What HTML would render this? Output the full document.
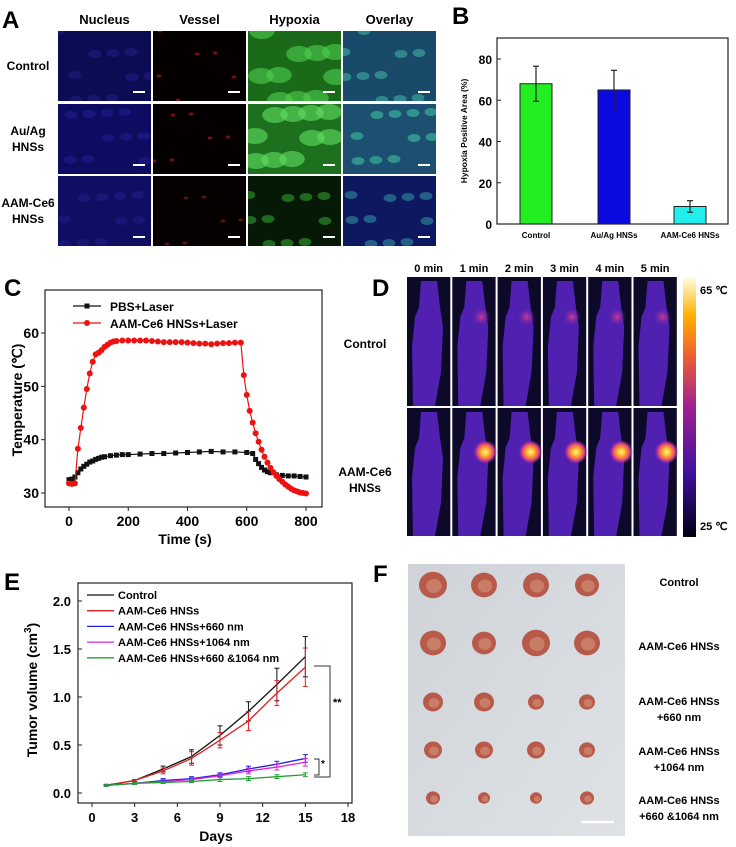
<!DOCTYPE html>
<html><head><meta charset="utf-8"><style>
body{margin:0;background:#fff;}
svg{display:block;font-family:"Liberation Sans",sans-serif;font-weight:bold;}
</style></head><body>
<svg id="fig" width="736" height="847" viewBox="0 0 736 847">
<defs id="defs">
<radialGradient id="hot" cx="0.5" cy="0.5" r="0.5"><stop offset="0" stop-color="#fff6a0"/><stop offset="0.35" stop-color="#ffb020"/><stop offset="0.7" stop-color="#e04080"/><stop offset="1" stop-color="#8030b0" stop-opacity="0"/></radialGradient>
<radialGradient id="warm" cx="0.5" cy="0.5" r="0.5"><stop offset="0" stop-color="#d03890"/><stop offset="1" stop-color="#7028b0" stop-opacity="0"/></radialGradient>
<linearGradient id="cbar" x1="0" y1="1" x2="0" y2="0"><stop offset="0" stop-color="#000010"/><stop offset="0.25" stop-color="#4010a0"/><stop offset="0.5" stop-color="#a02090"/><stop offset="0.7" stop-color="#f06030"/><stop offset="0.85" stop-color="#ffb000"/><stop offset="1" stop-color="#ffffe0"/></linearGradient>
<linearGradient id="photo" x1="0" y1="0" x2="1" y2="1"><stop offset="0" stop-color="#cfd3d8"/><stop offset="1" stop-color="#dfe2e5"/></linearGradient>
</defs>
<g id="panelA"></g>
<g id="panelB"></g>
<g id="panelC"></g>
<g id="panelD"></g>
<g id="panelE"></g>
<g id="panelF"></g>
</svg>
<script>
const NS="http://www.w3.org/2000/svg";
function mk(parent,tag,attrs,text){const e=document.createElementNS(NS,tag);for(const k in attrs)e.setAttribute(k,attrs[k]);if(text!==undefined)e.textContent=text;parent.appendChild(e);return e;}

// ---------- Panel B data ----------
const bCategories=["Control","Au/Ag HNSs","AAM-Ce6 HNSs"];
const bValues=[68,65,8.5];
const bErrors=[8.5,9.5,2.8];
const bColors=["#22ee22","#0a0ae0","#22eeee"];
const bTicks=[0,20,40,60,80];

// ---------- Panel C data ----------
const cTimeRed=[0,10,20,30,40,50,60,70,80,90,100,110,120,130,140,150,160,180,200,220,240,260,280,300,320,340,360,380,400,420,440,460,480,500,520,540,560,580,590,600,610,620,630,640,650,660,670,680,690,700,710,720,730,740,750,760,770,780,790,800];
const cTempRed=[31.8,31.7,31.8,38.3,42.2,46,49.5,52.4,54.6,56,56.3,56.8,57.4,57.8,58.2,58.4,58.5,58.6,58.6,58.6,58.6,58.6,58.5,58.4,58.3,58.3,58.3,58.3,58.2,58.1,58,58,57.9,58,58.1,58.1,58.2,58.2,52.1,48.4,45.4,43.2,41.2,39.6,38.1,36.8,35.7,34.7,33.9,33.2,32.6,32.1,31.6,31.2,30.8,30.5,30.3,30.1,30,29.9];
const cTimeBlack=[0,10,20,30,40,50,60,70,80,90,100,110,120,140,160,180,200,240,280,320,360,400,440,480,520,560,600,620,630,640,650,660,670,680,700,720,740,760,780,800];
const cTempBlack=[32.5,32.6,33,33.8,34.5,35,35.4,35.8,36,36.3,36.5,36.7,36.8,37,37.1,37.2,37.2,37.3,37.4,37.4,37.5,37.6,37.7,37.8,37.7,37.7,37.6,37.4,36.3,35.5,34.8,34.3,34,33.8,33.4,33.3,33.2,33.2,33.1,33];
const cXTicks=[0,200,400,600,800];
const cYTicks=[30,40,50,60];

// ---------- Panel E data ----------
const eDays=[1,3,5,7,9,11,13,15];
const eSeriesNames=["Control","AAM-Ce6 HNSs","AAM-Ce6 HNSs+660 nm","AAM-Ce6 HNSs+1064 nm","AAM-Ce6 HNSs+660 &1064 nm"];
const eControl=[0.08,0.13,0.25,0.38,0.6,0.85,1.13,1.42];
const eControlErr=[0,0.01,0.03,0.07,0.1,0.1,0.17,0.21];
const eAAM=[0.08,0.13,0.23,0.36,0.55,0.75,1.04,1.31];
const eAAMErr=[0,0.01,0.03,0.07,0.08,0.1,0.13,0.2];
const e660=[0.08,0.1,0.13,0.15,0.19,0.25,0.3,0.36];
const e660Err=[0.01,0.01,0.02,0.02,0.02,0.03,0.03,0.04];
const e1064=[0.08,0.1,0.12,0.14,0.18,0.23,0.27,0.32];
const e1064Err=[0.01,0.01,0.02,0.02,0.02,0.03,0.03,0.04];
const eCombo=[0.08,0.1,0.11,0.12,0.14,0.15,0.17,0.19];
const eComboErr=[0.01,0.01,0.01,0.01,0.02,0.02,0.02,0.02];
const eXTicks=[0,3,6,9,12,15,18];
const eYTicks=[0.0,0.5,1.0,1.5,2.0];

// ================= Panel A =================
(function(){
const g=document.getElementById('panelA');
const defs=document.getElementById('defs');
let t=mk(g,'text',{x:2,y:28,'font-size':24});t.textContent='A';


const heads=["Nucleus","Vessel","Hypoxia","Overlay"];
const colX=[58,153,248,343], rowY=[31,104,176], W=93, H=70;
heads.forEach((h,i)=>{const e=mk(g,'text',{x:colX[i]+W/2,y:24,'font-size':13,'text-anchor':'middle'},h);

});
const rows=[["Control"],["Au/Ag","HNSs"],["AAM-Ce6","HNSs"]];
rows.forEach((r,j)=>{r.forEach((s,k)=>{const e=mk(g,'text',{x:28,y:rowY[j]+H/2+4+(k-(r.length-1)/2)*16,'font-size':12,'text-anchor':'middle'},s);

});});
const base=[["#0c0c55","#050000","#1a6a1a","#1a4a6a"],["#0c0c60","#040000","#1d701d","#1d5070"],["#0e0e62","#070000","#061806","#0e1860"]];
const blobs=[["#2a2aa0","#c02020","#50d050","#40b0a0"],["#2a2ab0","#c02020","#60e060","#40c0a0"],["#2828a0","#902020","#30a030","#3090a0"]];
for(let j=0;j<3;j++)for(let i=0;i<4;i++){
 const x=colX[i],y=rowY[j];
 const cp=mk(defs,'clipPath',{id:'clipA'+j+i});
 mk(cp,'rect',{x:x,y:y,width:W,height:H});
 const tg=mk(g,'g',{'clip-path':'url(#clipA'+j+i+')'});
 const r=mk(tg,'rect',{x:x,y:y,width:W,height:H,fill:base[j][i]});
 
 
 const n=(i==1)?6:10;
 for(let k=0;k<n;k++){
  const cx=x+((k*37+j*13+i*7)%W), cy=y+((k*23+j*11)%H);
  const rr=(i==1)?1.5:((i==2&&j<2)?8:4);
  mk(tg,'ellipse',{cx:cx,cy:cy,rx:rr*1.6,ry:rr,fill:blobs[j][i],opacity:(i==0)?0.35:0.6});
 }
 mk(g,'line',{x1:x+W-18,y1:y+H-9,x2:x+W-6,y2:y+H-9,stroke:'#fff','stroke-width':2});
}
})();

// ================= Panel B =================
(function(){
const g=document.getElementById('panelB');
const X0=497,X1=728,Y0=38,Y1=224;
const yB=v=>Y1-v*(165/80);
const centers=[536,614,690], bw=32;
let t=mk(g,'text',{x:452,y:24,'font-size':24},'B');


bValues.forEach((v,i)=>{
 const r=mk(g,'rect',{x:centers[i]-bw/2,y:yB(v),width:bw,height:Y1-yB(v),fill:bColors[i],stroke:'#222','stroke-width':1});
 
 
 mk(g,'line',{x1:centers[i],y1:yB(v-bErrors[i]),x2:centers[i],y2:yB(v+bErrors[i]),stroke:'#222','stroke-width':1.2});
 mk(g,'line',{x1:centers[i]-3,y1:yB(v+bErrors[i]),x2:centers[i]+3,y2:yB(v+bErrors[i]),stroke:'#222','stroke-width':1.2});
 mk(g,'line',{x1:centers[i]-3,y1:yB(v-bErrors[i]),x2:centers[i]+3,y2:yB(v-bErrors[i]),stroke:'#222','stroke-width':1.2});
 const l=mk(g,'text',{x:centers[i],y:238,'font-size':8,'text-anchor':'middle'},bCategories[i]);
 
 
});
const f=mk(g,'rect',{x:X0,y:Y0,width:X1-X0,height:Y1-Y0,fill:'none',stroke:'#222','stroke-width':1.2});


bTicks.forEach(v=>{mk(g,'line',{x1:X0,y1:yB(v),x2:X0+4,y2:yB(v),stroke:'#222'});
 const l=mk(g,'text',{x:X0-5,y:yB(v)+5,'font-size':12,'text-anchor':'end'},v);
 
 });
const yt=mk(g,'text',{x:0,y:0,'font-size':8.5,'text-anchor':'middle',transform:'translate(467,131) rotate(-90)'},'Hypoxia Positive Area (%)');


})();

// ================= Panel C =================
(function(){
const g=document.getElementById('panelC');
const X0=45,X1=322,Y0=290,Y1=507;
const xC=t=>69+t*(237/800), yC=v=>493-(v-30)*(160/30);
let t=mk(g,'text',{x:4,y:296,'font-size':24},'C');


const f=mk(g,'rect',{x:X0,y:Y0,width:X1-X0,height:Y1-Y0,fill:'none',stroke:'#222','stroke-width':1.2});


cXTicks.forEach(v=>{mk(g,'line',{x1:xC(v),y1:Y1,x2:xC(v),y2:Y1+4,stroke:'#222'});
 const l=mk(g,'text',{x:xC(v),y:526,'font-size':14,'text-anchor':'middle'},v);
 
 });
cYTicks.forEach(v=>{mk(g,'line',{x1:X0-4,y1:yC(v),x2:X0,y2:yC(v),stroke:'#222'});
 const l=mk(g,'text',{x:X0-6,y:yC(v)+5,'font-size':14,'text-anchor':'end'},v);
 
 });
const xt=mk(g,'text',{x:185,y:544,'font-size':14,'text-anchor':'middle'},'Time (s)');


const yt=mk(g,'text',{x:0,y:0,'font-size':14,'text-anchor':'middle',transform:'translate(22,400) rotate(-90)'},'Temperature (℃)');


const pb=mk(g,'polyline',{points:cTimeBlack.map((x,i)=>xC(x)+','+yC(cTempBlack[i])).join(' '),fill:'none',stroke:'#111','stroke-width':1.2});


cTimeBlack.forEach((x,i)=>{const m=mk(g,'rect',{x:xC(x)-2.5,y:yC(cTempBlack[i])-2.5,width:5,height:5,fill:'#111'});
 
 });
const pr=mk(g,'polyline',{points:cTimeRed.map((x,i)=>xC(x)+','+yC(cTempRed[i])).join(' '),fill:'none',stroke:'#ee1111','stroke-width':1.2});


cTimeRed.forEach((x,i)=>{const m=mk(g,'circle',{cx:xC(x),cy:yC(cTempRed[i]),r:3,fill:'#ee1111'});
 
 });
mk(g,'line',{x1:73,y1:306,x2:101,y2:306,stroke:'#111','stroke-width':1.2});
mk(g,'rect',{x:84.5,y:303.5,width:5,height:5,fill:'#111'});
let l1=mk(g,'text',{x:110,y:311,'font-size':12},'PBS+Laser');


mk(g,'line',{x1:73,y1:323,x2:101,y2:323,stroke:'#ee1111','stroke-width':1.2});
mk(g,'circle',{cx:87,cy:323,r:3,fill:'#ee1111'});
let l2=mk(g,'text',{x:110,y:328,'font-size':12},'AAM-Ce6 HNSs+Laser');


})();

// ================= Panel D =================
(function(){
const g=document.getElementById('panelD');
let t=mk(g,'text',{x:372,y:296,'font-size':24},'D');


const x0=406,cw=45.3,ys=[277,408],hs=[130,129];
mk(g,'rect',{x:406,y:277,width:272,height:260,fill:'#fff'});
for(let j=0;j<2;j++)for(let i=0;i<6;i++){
 const x=x0+i*cw+1,y=ys[j];
 const r=mk(g,'rect',{x:x,y:y,width:cw-2,height:hs[j]-1,fill:'#0c0a28'});
 
 
 mk(g,'path',{d:`M${x+14} ${y+4} L${x+30} ${y+4} L${x+33} ${y+30} L${x+36} ${y+50} L${x+34} ${y+95} L${x+28} ${y+hs[j]-1} L${x+6} ${y+hs[j]-1} L${x+5} ${y+70} L${x+8} ${y+40} L${x+12} ${y+30} Z`,fill:'#5020b0'});
 if(i>0){ if(j==0) mk(g,'ellipse',{cx:x+29,cy:y+40,rx:9,ry:9,fill:'url(#warm)'});
 else mk(g,'ellipse',{cx:x+33,cy:y+44,rx:12,ry:12,fill:'url(#hot)'});}
}
["0 min","1 min","2 min","3 min","4 min","5 min"].forEach((s,i)=>{const e=mk(g,'text',{x:x0+i*cw+cw/2,y:272,'font-size':11,'text-anchor':'middle'},s);
 
 });
let c=mk(g,'text',{x:365,y:348,'font-size':12,'text-anchor':'middle'},'Control');


let a1=mk(g,'text',{x:365,y:476,'font-size':12,'text-anchor':'middle'},'AAM-Ce6');


mk(g,'text',{x:365,y:492,'font-size':12,'text-anchor':'middle'},'HNSs');
const cb=mk(g,'rect',{x:683,y:277,width:13,height:260,fill:'url(#cbar)'});


mk(g,'text',{x:700,y:294,'font-size':11},'65 ℃');
mk(g,'text',{x:700,y:530,'font-size':11},'25 ℃');
})();

// ================= Panel E =================
(function(){
const g=document.getElementById('panelE');
const X0=78,X1=352,Y0=583,Y1=803;
const xE=d=>92+d*256/18, yE=v=>793-v*96;
let t=mk(g,'text',{x:4,y:590,'font-size':24},'E');


const f=mk(g,'rect',{x:X0,y:Y0,width:X1-X0,height:Y1-Y0,fill:'none',stroke:'#222','stroke-width':1.2});


eXTicks.forEach(v=>{mk(g,'line',{x1:xE(v),y1:Y1,x2:xE(v),y2:Y1+4,stroke:'#222'});
 const l=mk(g,'text',{x:xE(v),y:822,'font-size':13,'text-anchor':'middle'},v);
 
 });
eYTicks.forEach(v=>{mk(g,'line',{x1:X0,y1:yE(v),x2:X0+4,y2:yE(v),stroke:'#222'});
 const l=mk(g,'text',{x:X0-7,y:yE(v)+5,'font-size':13,'text-anchor':'end'},v.toFixed(1));
 
 });
const xt=mk(g,'text',{x:216,y:841,'font-size':14,'text-anchor':'middle'},'Days');


const yt=mk(g,'text',{x:0,y:0,'font-size':14,'text-anchor':'middle',transform:'translate(37,690) rotate(-90)'});


yt.appendChild(document.createTextNode('Tumor volume (cm'));
mk(yt,'tspan',{dy:-6,'font-size':10},'3');
mk(yt,'tspan',{dy:6},')');
const series=[[eControl,eControlErr,'#111'],[eAAM,eAAMErr,'#e02020'],[e660,e660Err,'#2020e0'],[e1064,e1064Err,'#e020e0'],[eCombo,eComboErr,'#20a030']];
series.forEach((s,k)=>{
 const p=mk(g,'polyline',{points:eDays.map((d,i)=>xE(d)+','+yE(s[0][i])).join(' '),fill:'none',stroke:s[2],'stroke-width':1.3});
 
 
 eDays.forEach((d,i)=>{const v=s[0][i],e=s[1][i],x=xE(d);
  mk(g,'line',{x1:x,y1:yE(v-e),x2:x,y2:yE(v+e),stroke:s[2],'stroke-width':1});
  mk(g,'line',{x1:x-2.5,y1:yE(v-e),x2:x+2.5,y2:yE(v-e),stroke:s[2],'stroke-width':1});
  mk(g,'line',{x1:x-2.5,y1:yE(v+e),x2:x+2.5,y2:yE(v+e),stroke:s[2],'stroke-width':1});
 });
 const ly=595+k*15.7;
 mk(g,'line',{x1:87,y1:ly,x2:114,y2:ly,stroke:s[2],'stroke-width':1.3});
 const l=mk(g,'text',{x:118,y:ly+4,'font-size':11},eSeriesNames[k]);
 
 
});
mk(g,'polyline',{points:'314,666 330,666 330,777 314,777',fill:'none',stroke:'#333','stroke-width':1});
mk(g,'text',{x:333,y:706,'font-size':11},'**');
mk(g,'polyline',{points:'314,759 319,759 319,775 314,775',fill:'none',stroke:'#333','stroke-width':1});
mk(g,'text',{x:321,y:767,'font-size':10},'*');
})();

// ================= Panel F =================
(function(){
const g=document.getElementById('panelF');
let t=mk(g,'text',{x:373,y:582,'font-size':24},'F');


const ph=mk(g,'rect',{x:408,y:564,width:217,height:272,fill:'url(#photo)'});


const rowsY=[585,643,702,750,798], colsX=[433,484,536,587];
const sizes=[[14,13,13,12],[13,12,14,13],[10,10,8,8],[9,9,9,8],[7,6,6,7]];
rowsY.forEach((y,j)=>colsX.forEach((x,i)=>{const s=sizes[j][i];
 const e=mk(g,'ellipse',{cx:x,cy:y,rx:s,ry:s*0.95,fill:'#b85a4a'});
 
 
 mk(g,'ellipse',{cx:x+1,cy:y+1,rx:s*0.55,ry:s*0.5,fill:'#d08c74',opacity:0.7});
}));
mk(g,'line',{x1:581,y1:822,x2:614,y2:822,stroke:'#fff','stroke-width':2.5});
const labels=[["Control"],["AAM-Ce6 HNSs"],["AAM-Ce6 HNSs","+660 nm"],["AAM-Ce6 HNSs","+1064 nm"],["AAM-Ce6 HNSs","+660 &1064 nm"]];
const ly=[586,650,705,755,804];
labels.forEach((r,j)=>r.forEach((s,k)=>{const e=mk(g,'text',{x:679,y:ly[j]+k*16,'font-size':11,'text-anchor':'middle'},s);
 
 }));
})();
</script>
</body></html>
